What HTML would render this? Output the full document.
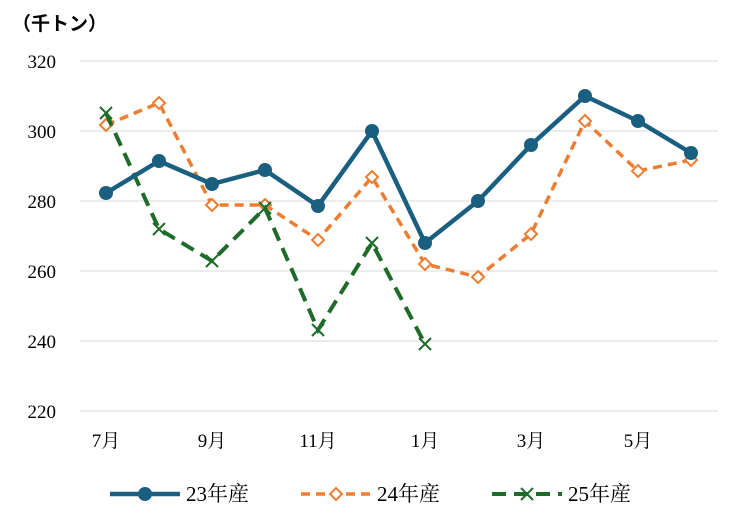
<!DOCTYPE html>
<html><head><meta charset="utf-8"><style>body{margin:0;background:#fff}svg{display:block}</style></head><body>
<svg width="750" height="518" xmlns="http://www.w3.org/2000/svg" font-family="'Liberation Serif','Noto Serif CJK SC',serif">
<text x="12" y="30" font-size="19" font-weight="600" font-family="'Liberation Sans','Noto Sans CJK JP',sans-serif">（千トン）</text>
<g stroke="#d9d9d9" stroke-width="1">
<line x1="80" y1="61" x2="718" y2="61"/><line x1="80" y1="131" x2="718" y2="131"/><line x1="80" y1="201" x2="718" y2="201"/><line x1="80" y1="271" x2="718" y2="271"/><line x1="80" y1="341" x2="718" y2="341"/><line x1="80" y1="411" x2="718" y2="411"/>
</g>
<g font-size="19" text-anchor="end">
<text x="56" y="68">320</text><text x="56" y="138">300</text><text x="56" y="208">280</text><text x="56" y="278">260</text><text x="56" y="348">240</text><text x="56" y="418">220</text>
</g>
<g font-size="19" text-anchor="middle">
<text x="106" y="447">7月</text><text x="212" y="447">9月</text><text x="318" y="447">11月</text><text x="425" y="447">1月</text><text x="531" y="447">3月</text><text x="638" y="447">5月</text>
</g>
<polyline fill="none" stroke="#ed7d31" stroke-width="3.5" stroke-dasharray="9,6" points="106,125 159,103 212,205 265,205 318,240 372,177 425,264 478,277 531,234 585,121 638,171 691,160"/>
<g fill="#fff" stroke="#ed7d31" stroke-width="2">
<path d="M106,119l6,6l-6,6l-6,-6z"/><path d="M159,97l6,6l-6,6l-6,-6z"/><path d="M212,199l6,6l-6,6l-6,-6z"/><path d="M265,199l6,6l-6,6l-6,-6z"/><path d="M318,234l6,6l-6,6l-6,-6z"/><path d="M372,171l6,6l-6,6l-6,-6z"/><path d="M425,258l6,6l-6,6l-6,-6z"/><path d="M478,271l6,6l-6,6l-6,-6z"/><path d="M531,228l6,6l-6,6l-6,-6z"/><path d="M585,115l6,6l-6,6l-6,-6z"/><path d="M638,165l6,6l-6,6l-6,-6z"/><path d="M691,154l6,6l-6,6l-6,-6z"/>
</g>
<polyline fill="none" stroke="#1f6b2a" stroke-width="4" stroke-dasharray="14,8" points="106,113 159,229 212,261 265,208 318,330 372,243 425,344"/>
<g stroke="#1f6b2a" stroke-width="2">
<path d="M100,107l12,12M112,107l-12,12"/><path d="M153,223l12,12M165,223l-12,12"/><path d="M206,255l12,12M218,255l-12,12"/><path d="M259,202l12,12M271,202l-12,12"/><path d="M312,324l12,12M324,324l-12,12"/><path d="M366,237l12,12M378,237l-12,12"/><path d="M419,338l12,12M431,338l-12,12"/>
</g>
<polyline fill="none" stroke="#1a5e80" stroke-width="4.5" points="106,193 159,161 212,184 265,170 318,206 372,131 425,243 478,201 531,145 585,96 638,121 691,153"/>
<g fill="#1a5e80">
<circle cx="106" cy="193" r="7"/><circle cx="159" cy="161" r="7"/><circle cx="212" cy="184" r="7"/><circle cx="265" cy="170" r="7"/><circle cx="318" cy="206" r="7"/><circle cx="372" cy="131" r="7"/><circle cx="425" cy="243" r="7"/><circle cx="478" cy="201" r="7"/><circle cx="531" cy="145" r="7"/><circle cx="585" cy="96" r="7"/><circle cx="638" cy="121" r="7"/><circle cx="691" cy="153" r="7"/>
</g>
<line x1="110" y1="494" x2="180" y2="494" stroke="#1a5e80" stroke-width="4.5"/><circle cx="145" cy="494" r="7" fill="#1a5e80"/>
<text x="186" y="501" font-size="21">23年産</text>
<line x1="301" y1="494" x2="371" y2="494" stroke="#ed7d31" stroke-width="3.5" stroke-dasharray="9,6"/><path d="M336,488l6,6l-6,6l-6,-6z" fill="#fff" stroke="#ed7d31" stroke-width="2"/>
<text x="377" y="501" font-size="21">24年産</text>
<line x1="492" y1="494" x2="562" y2="494" stroke="#1f6b2a" stroke-width="4" stroke-dasharray="14,8"/><path d="M521,488l12,12M533,488l-12,12" stroke="#1f6b2a" stroke-width="2"/>
<text x="568" y="501" font-size="21">25年産</text>
</svg>
</body></html>
